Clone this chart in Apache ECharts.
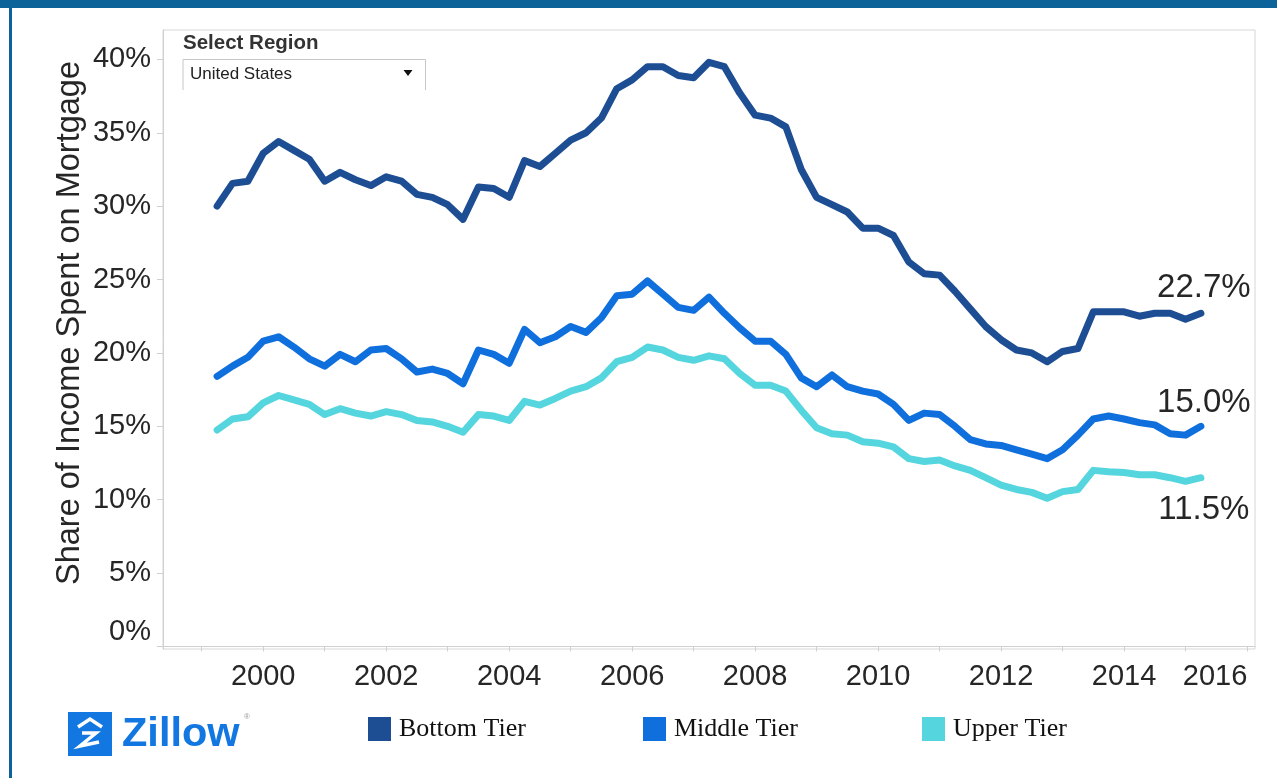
<!DOCTYPE html>
<html><head><meta charset="utf-8">
<script src="https://cdn.jsdelivr.net/npm/echarts@6/dist/echarts.min.js"></script>
<style>html,body{margin:0;padding:0;background:#fff;}#c{width:1277px;height:778px;}</style>
</head><body><div id="c"></div>
<script>
// first data point: 1999 Q2, quarterly
const startYear = 1999;
const startQuarter = 2;
const seriesNames = ['Bottom Tier', 'Middle Tier', 'Upper Tier'];
const bottomTier = [30.0, 31.55, 31.7, 33.6, 34.4, 33.8, 33.2, 31.7, 32.3, 31.8,
  31.4, 32.0, 31.7, 30.8, 30.6, 30.1, 29.1, 31.3, 31.2, 30.6,
  33.1, 32.7, 33.6, 34.5, 35.0, 36.0, 38.0, 38.6, 39.5, 39.5,
  38.9, 38.75, 39.8, 39.5, 37.7, 36.2, 36.0, 35.4, 32.5, 30.6,
  30.1, 29.6, 28.5, 28.5, 28.0, 26.2, 25.4, 25.3, 24.2, 23.0,
  21.8, 20.9, 20.2, 20.0, 19.4, 20.1, 20.3, 22.8, 22.8, 22.8,
  22.5, 22.7, 22.7, 22.3, 22.7];
const middleTier = [18.4, 19.1, 19.7, 20.8, 21.1, 20.4, 19.6, 19.1, 19.9, 19.4,
  20.2, 20.3, 19.6, 18.7, 18.9, 18.6, 17.9, 20.2, 19.9, 19.3,
  21.6, 20.7, 21.1, 21.8, 21.4, 22.4, 23.9, 24.0, 24.9, 24.0,
  23.1, 22.9, 23.8, 22.7, 21.7, 20.8, 20.8, 19.9, 18.3, 17.7,
  18.5, 17.7, 17.4, 17.2, 16.5, 15.4, 15.9, 15.8, 15.0, 14.1,
  13.8, 13.7, 13.4, 13.1, 12.8, 13.4, 14.4, 15.5, 15.7, 15.5,
  15.25, 15.1, 14.5, 14.4, 15.0];
const upperTier = [14.75, 15.5, 15.65, 16.6, 17.1, 16.8, 16.5, 15.8, 16.2, 15.9,
  15.7, 16.0, 15.8, 15.4, 15.3, 15.0, 14.6, 15.8, 15.7, 15.4,
  16.7, 16.45, 16.9, 17.4, 17.7, 18.3, 19.4, 19.7, 20.4, 20.2,
  19.7, 19.5, 19.8, 19.6, 18.6, 17.8, 17.8, 17.4, 16.1, 14.9,
  14.5, 14.4, 13.95, 13.85, 13.6, 12.8, 12.6, 12.7, 12.3, 12.0,
  11.5, 11.0, 10.7, 10.5, 10.1, 10.55, 10.7, 12.0, 11.9, 11.85,
  11.7, 11.7, 11.5, 11.25, 11.5];
const yTickValues = [0, 5, 10, 15, 20, 25, 30, 35, 40];
const xTickYears = [1999, 2000, 2001, 2002, 2003, 2004, 2005, 2006, 2007, 2008, 2009, 2010, 2011, 2012, 2013, 2014, 2015, 2016];
const xLabelYears = [2000, 2002, 2004, 2006, 2008, 2010, 2012, 2014, 2016];
const yAxisTitle = 'Share of Income Spent on Mortgage';
const regionTitle = 'Select Region';
const regionValue = 'United States';
const brandName = 'Zillow';

const colors = ['#1d4e94', '#0f6fdc', '#55d5de'];
const labelSide = ['top', 'top', 'bottom'];
const labelDist = [8, 6, 15];
const legendLefts = [368, 643, 922];

function toPairs(arr) {
  return arr.map((v, i) => [startYear + (startQuarter - 1) / 4 + i / 4, v]);
}
const allSeries = [bottomTier, middleTier, upperTier];

const chart = echarts.init(document.getElementById('c'), null, { renderer: 'canvas' });
const sansFont = '"Liberation Sans", Arial, sans-serif';
const serifFont = '"Liberation Serif", "Times New Roman", serif';
const lastLabelYear = xLabelYears[xLabelYears.length - 1];

const option = {
  animation: false,
  backgroundColor: '#ffffff',
  grid: { left: 163, right: 22, top: 30, bottom: 129, show: true, borderColor: '#d6d6d6', borderWidth: 1, backgroundColor: 'transparent' },
  xAxis: {
    type: 'value', min: 1998.37, max: 2016.13,
    axisLine: { show: true, lineStyle: { color: '#d0d0d0', width: 1 } },
    axisTick: { show: true, customValues: xTickYears, length: 5, lineStyle: { color: '#d0d0d0' } },
    axisLabel: {
      customValues: xLabelYears,
      formatter: v => (v === lastLabelYear ? '{e|' + v + '}' : String(v)),
      rich: { e: { fontSize: 29, fontFamily: sansFont, color: '#262626', padding: [0, 64, 0, 0] } },
      fontSize: 29, fontFamily: sansFont, color: '#262626', margin: 13
    },
    splitLine: { show: false }
  },
  yAxis: {
    type: 'value', min: -0.17, max: 42.0,
    axisLine: { show: true, lineStyle: { color: '#d0d0d0', width: 1 } },
    axisTick: { show: true, customValues: yTickValues, length: 6, lineStyle: { color: '#d0d0d0' } },
    axisLabel: {
      customValues: yTickValues,
      formatter: v => (v === 0 ? '{z|0%}' : v + '%'),
      rich: { z: { fontSize: 29, fontFamily: sansFont, color: '#262626', padding: [0, 0, 29, 0] } },
      fontSize: 29, fontFamily: sansFont, color: '#262626', margin: 12
    },
    splitLine: { show: false }
  },
  legend: seriesNames.map((n, k) => ({
    left: legendLefts[k], top: 716, padding: 0, itemWidth: 23, itemHeight: 24, icon: 'rect',
    textStyle: { fontFamily: serifFont, fontSize: 26, color: '#111', padding: [0, 0, 0, 3] },
    selectedMode: false,
    data: [n]
  })),
  series: allSeries.map((arr, k) => ({
    name: seriesNames[k], type: 'line', data: toPairs(arr), showSymbol: false, symbol: 'none',
    lineStyle: { color: colors[k], width: 7, cap: 'round', join: 'round' },
    itemStyle: { color: colors[k] },
    z: 3 - k,
    markPoint: {
      symbol: 'circle', symbolSize: 1, itemStyle: { color: 'rgba(0,0,0,0)' },
      label: {
        show: true, position: labelSide[k], distance: labelDist[k], offset: [3, 0],
        formatter: p => p.value.toFixed(1) + '%', fontSize: 33, fontFamily: sansFont, color: '#262626'
      },
      data: [{ coord: toPairs(arr)[arr.length - 1], value: arr[arr.length - 1] }]
    }
  })),
  graphic: [
    { type: 'rect', shape: { x: 0, y: 0, width: 1277, height: 8 }, style: { fill: '#0b6399' }, silent: true },
    { type: 'rect', shape: { x: 9, y: 0, width: 3, height: 778 }, style: { fill: '#0b6399' }, silent: true },
    { type: 'text', x: 183, y: 43, style: { text: regionTitle, font: 'bold 20.5px ' + sansFont, fill: '#333', textVerticalAlign: 'middle' } },
    { type: 'polyline', shape: { points: [[183, 90], [183, 59.5], [425.5, 59.5], [425.5, 90]] }, style: { stroke: '#c6c6c6', lineWidth: 1, fill: null } },
    { type: 'text', x: 190, y: 74, style: { text: regionValue, font: '17px ' + sansFont, fill: '#222', textVerticalAlign: 'middle' } },
    { type: 'polygon', shape: { points: [[403.5, 70], [412.5, 70], [408, 76]] }, style: { fill: '#111' } },
    { type: 'text', x: 70, y: 323, rotation: Math.PI / 2, style: { text: yAxisTitle, font: '32.5px ' + sansFont, fill: '#262626', textAlign: 'center', textVerticalAlign: 'middle' } },
    // brand logo
    { type: 'rect', shape: { x: 68, y: 712, width: 44, height: 44 }, style: { fill: '#1277e1' } },
    { type: 'polyline', shape: { points: [[78, 727], [90, 719], [102, 727]] }, style: { stroke: '#fff', lineWidth: 3.5, fill: null } },
    { type: 'polyline', shape: { points: [[82, 733], [96, 733], [80, 746], [99, 742]] }, style: { stroke: '#fff', lineWidth: 3.5, fill: null, lineJoin: 'miter' } },
    { type: 'text', x: 122, y: 735, style: { text: brandName, font: 'bold 41.5px ' + sansFont, fill: '#1277e1', textVerticalAlign: 'middle' } },
    { type: 'text', x: 244, y: 717, style: { text: '®', font: '8px ' + sansFont, fill: '#999', textVerticalAlign: 'middle' } }
  ]
};
chart.setOption(option);
</script>
</body></html>
